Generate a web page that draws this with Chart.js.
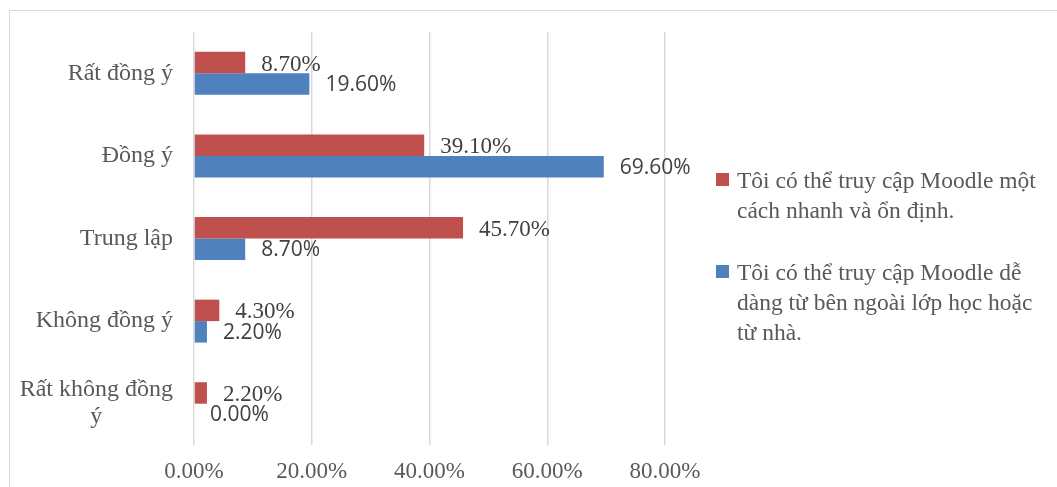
<!DOCTYPE html>
<html>
<head>
    <meta charset="UTF-8">
    <title>Moodle access survey</title>
    <script src="https://cdn.jsdelivr.net/npm/chart.js"></script>
    <style>
        body {
            margin: 0;
            background-color: #ffffff;
            font-family: "Liberation Serif", serif;
        }

        .wrap {
            position: relative;
            width: 1057px;
            height: 487px;
            overflow: hidden;
        }

        .frame {
            position: absolute;
            left: 9px;
            top: 10px;
            width: 1200px;
            height: 600px;
            border-left: 1.5px solid #d9d9d9;
            border-top: 1.5px solid #d9d9d9;
        }

        .legend {
            position: absolute;
            left: 716px;
            top: 165px;
            color: #595959;
            font-size: 23.5px;
            line-height: 30px;
            white-space: nowrap;
        }

        .legend .item {
            position: relative;
            padding-left: 21px;
            margin-bottom: 32px;
        }

        .legend .box {
            position: absolute;
            left: 0;
            top: 8px;
            width: 13px;
            height: 13px;
        }
    </style>
</head>
<body>
    <div class="wrap">
        <div class="frame"></div>
        <canvas id="chart" width="1057" height="487"></canvas>
        <div class="legend" id="legend"></div>
    </div>

    <script>
        // categories, top to bottom
        var categories = ['Rất đồng ý', 'Đồng ý', 'Trung lập', 'Không đồng ý', ['Rất không đồng', 'ý']];

        // series labels
        var seriesNames = [
            ['Tôi có thể truy cập Moodle một', 'cách nhanh và ổn định.'],
            ['Tôi có thể truy cập Moodle dễ', 'dàng từ bên ngoài lớp học hoặc', 'từ nhà.']
        ];

        // values in percent
        var fastStable = [8.7, 39.1, 45.7, 4.3, 2.2];
        var fromHome = [19.6, 69.6, 8.7, 2.2, 0.0];

        var xTicks = [0, 20, 40, 60, 80];

        var red = '#C0504D';
        var blue = '#4F81BD';

        // value labels at the end of each bar
        var valueLabels = {
            id: 'valueLabels',
            afterDatasetsDraw: function (chart) {
                var ctx = chart.ctx;
                ctx.save();
                ctx.textAlign = 'left';
                ctx.textBaseline = 'middle';
                chart.data.datasets.forEach(function (ds, i) {
                    var meta = chart.getDatasetMeta(i);
                    if (i === 0) {
                        ctx.font = '23px "Liberation Serif", serif';
                        ctx.fillStyle = '#404040';
                    } else {
                        ctx.font = '21px "Open Sans", sans-serif';
                        ctx.fillStyle = '#404040';
                    }
                    meta.data.forEach(function (bar, j) {
                        var txt = ds.data[j].toFixed(2) + '%';
                        ctx.fillText(txt, bar.x + 16, bar.y + (i === 0 ? 2 : 1));
                    });
                });
                ctx.restore();
            }
        };

        // category labels, wrapped lines centred on each other like Excel does
        var categoryLabels = {
            id: 'categoryLabels',
            afterDraw: function (chart) {
                var ctx = chart.ctx;
                var yScale = chart.scales.y;
                var rightEdge = 173;
                var lineH = 27;
                ctx.save();
                ctx.font = '24px "Liberation Serif", serif';
                ctx.fillStyle = '#595959';
                ctx.textBaseline = 'middle';
                ctx.textAlign = 'center';
                categories.forEach(function (label, i) {
                    var lines = Array.isArray(label) ? label : [label];
                    var w = 0;
                    lines.forEach(function (l) {
                        w = Math.max(w, ctx.measureText(l).width);
                    });
                    var cx = rightEdge - w / 2;
                    var cy = yScale.getPixelForValue(i);
                    var y0 = cy - (lines.length - 1) * lineH / 2;
                    lines.forEach(function (l, k) {
                        ctx.fillText(l, cx, y0 + k * lineH);
                    });
                });
                ctx.restore();
            }
        };

        var ctx = document.getElementById('chart').getContext('2d');
        var chart = new Chart(ctx, {
            type: 'bar',
            data: {
                labels: categories.map(function (c) { return Array.isArray(c) ? c.join(' ') : c; }),
                datasets: [{
                    label: seriesNames[0].join(' '),
                    data: fastStable,
                    backgroundColor: red
                }, {
                    label: seriesNames[1].join(' '),
                    data: fromHome,
                    backgroundColor: blue
                }]
            },
            options: {
                indexAxis: 'y',
                responsive: false,
                animation: false,
                layout: {
                    padding: { left: 0, top: 32, right: 392, bottom: 0 }
                },
                datasets: {
                    bar: {
                        categoryPercentage: 0.52,
                        barPercentage: 1.0
                    }
                },
                plugins: {
                    legend: { display: false },
                    tooltip: { enabled: false }
                },
                scales: {
                    x: {
                        min: 0,
                        max: 80,
                        afterBuildTicks: function (scale) {
                            scale.ticks = xTicks.map(function (v) { return { value: v }; });
                        },
                        afterFit: function (scale) {
                            scale.height = 42;
                        },
                        grid: {
                            color: '#d9d9d9',
                            lineWidth: 1.5,
                            drawTicks: false
                        },
                        border: { display: false },
                        ticks: {
                            padding: 13,
                            color: '#595959',
                            font: { family: '"Liberation Serif", serif', size: 23 },
                            callback: function (v) { return v.toFixed(2) + '%'; }
                        }
                    },
                    y: {
                        afterFit: function (scale) {
                            scale.width = 194;
                        },
                        grid: { display: false },
                        border: { display: false },
                        ticks: { display: false }
                    }
                }
            },
            plugins: [valueLabels, categoryLabels]
        });

        // legend with wrapped text
        var legendEl = document.getElementById('legend');
        [red, blue].forEach(function (col, i) {
            var item = document.createElement('div');
            item.className = 'item';
            item.innerHTML = '<span class="box" style="background:' + col + '"></span>' + seriesNames[i].join('<br>');
            legendEl.appendChild(item);
        });
    </script>
</body>
</html>
